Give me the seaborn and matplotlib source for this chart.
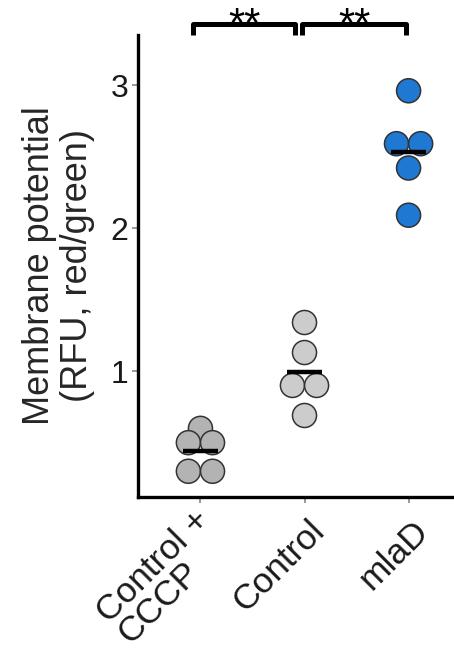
import numpy as np
import pandas as pd
import matplotlib
matplotlib.use("Agg")
import matplotlib.pyplot as plt
import matplotlib.transforms as mtransforms
import seaborn as sns

# Measurements per condition
categories = ["Control +\nCCCP", "Control", "mlaD"]
cccp_vals = [0.60, 0.50, 0.50, 0.30, 0.30]
control_vals = [1.34, 1.13, 0.90, 0.90, 0.69]
mlad_vals = [2.96, 2.59, 2.59, 2.42, 2.09]
group_colors = ["#b3b3b3", "#cccccc", "#1f78d1"]
sig_labels = ["**", "**"]

sns.set_theme(style="white")
plt.rcParams["font.family"] = ["Liberation Sans", "DejaVu Sans"]

rows = []
for gi, vals in enumerate([cccp_vals, control_vals, mlad_vals]):
    rows += [{"group": categories[gi], "gi": gi, "value": v} for v in vals]
df = pd.DataFrame(rows)

# dotplot-style layout: tied values are spread side by side around the centre
spacing = 0.232
df["xpos"] = df["gi"].astype(float)
for (gi, val), sub in df.groupby(["gi", "value"]):
    n = len(sub)
    offs = (np.arange(n) - (n - 1) / 2) * spacing
    df.loc[sub.index, "xpos"] = gi + offs

fig = plt.figure(figsize=(4.54, 6.55), dpi=100)
ax = fig.add_axes([0.304, 0.2412, 0.70, 0.7054])

sns.scatterplot(data=df, x="xpos", y="value", hue="group", palette=group_colors,
                s=300, edgecolor="#333333", linewidth=1.1, legend=False, ax=ax,
                zorder=3)

# group means
means = df.groupby("gi")["value"].mean()
for gi, m in means.items():
    ax.plot([gi - 0.165, gi + 0.165], [m, m], color="black", lw=3.2,
            solid_capstyle="butt", zorder=4)

# significance brackets
y_top, y_leg = 3.43, 3.35
for (x0, x1), lab in zip([(-0.07, 0.91), (0.98, 1.98)], sig_labels):
    ax.plot([x0, x0, x1, x1], [y_leg, y_top, y_top, y_leg], color="black",
            lw=3.6, solid_joinstyle="round", solid_capstyle="butt",
            clip_on=False, zorder=5)
    ax.text((x0 + x1) / 2, 3.335, lab, ha="center", va="baseline",
            fontsize=30, color="black", clip_on=False)

ax.set_xlim(-0.6, 2.454)
ax.set_ylim(0.12, 3.35)
ax.set_xticks([0, 1, 2])
ax.set_xticklabels(categories, rotation=45, ha="right", va="center",
                   rotation_mode="anchor", multialignment="left",
                   fontsize=25.5, linespacing=0.9)
ax.set_yticks([1, 2, 3])
ax.set_yticklabels(["1", "2", "3"], fontsize=23)
ax.tick_params(axis="both", which="both", length=4, width=1.2,
               color="#888888", labelcolor="#1a1a1a", bottom=True, left=True)
ax.tick_params(axis="x", pad=0)
ax.tick_params(axis="y", pad=3)

# angled labels hang below and to the right of their ticks
shift = mtransforms.ScaledTranslation(0.15, -0.23, fig.dpi_scale_trans)
for lab in ax.get_xticklabels():
    lab.set_transform(lab.get_transform() + shift)

ax.set_xlabel("")
ax.set_ylabel("Membrane potential\n(RFU, red/green)", fontsize=26, labelpad=11,
              linespacing=1.1)

for side in ["top", "right"]:
    ax.spines[side].set_visible(False)
for side in ["left", "bottom"]:
    ax.spines[side].set_linewidth(2.4)
    ax.spines[side].set_color("black")

fig.savefig("out.png", dpi=100)
